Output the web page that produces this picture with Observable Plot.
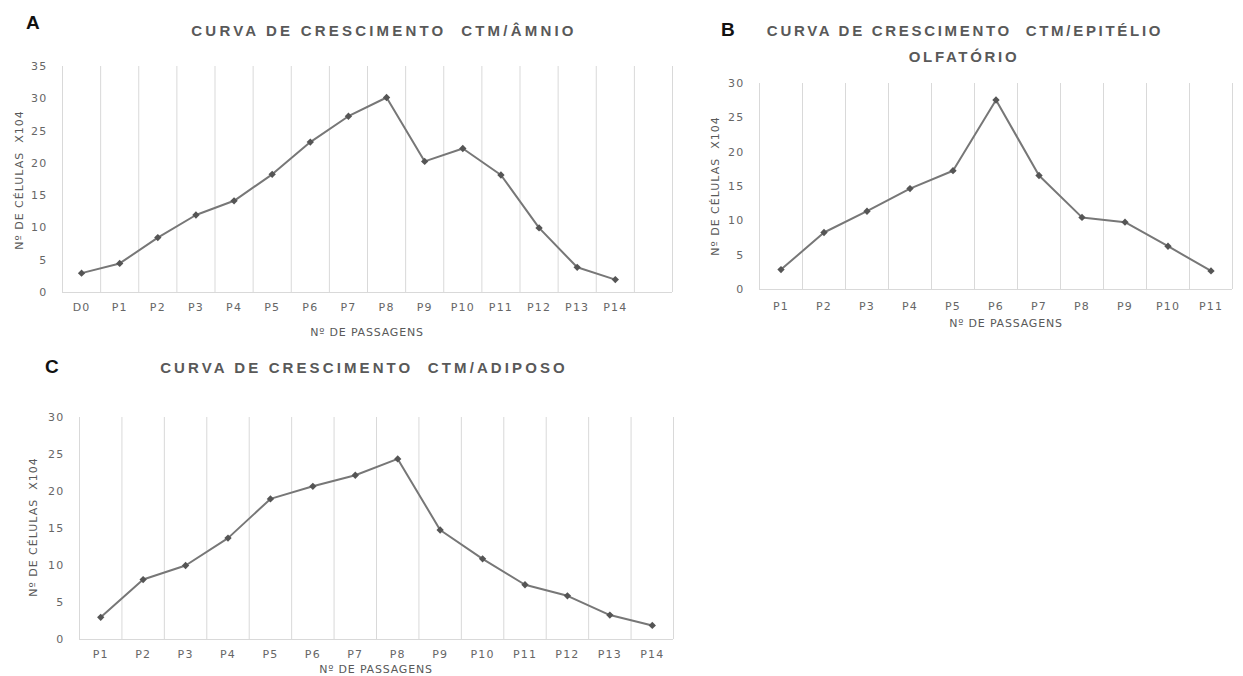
<!DOCTYPE html>
<html>
<head>
<meta charset="utf-8">
<script src="https://cdn.jsdelivr.net/npm/d3@7"></script>
<script src="https://cdn.jsdelivr.net/npm/@observablehq/plot@0.6"></script>
<style>
  html, body { margin: 0; padding: 0; background: #ffffff; }
  #root { position: relative; width: 1243px; height: 676px; overflow: hidden; background: #fff; }
  .panel { position: absolute; }
  #overlay { position: absolute; left: 0; top: 0; pointer-events: none; }
</style>
</head>
<body>
<div id="root"></div>
<script>
// ---- Data ----
const titleA = "CURVA DE CRESCIMENTO  CTM/ÂMNIO";
const titleB1 = "CURVA DE CRESCIMENTO  CTM/EPITÉLIO";
const titleB2 = "OLFATÓRIO";
const titleC = "CURVA DE CRESCIMENTO  CTM/ADIPOSO";
const yLabel = "Nº DE CÉLULAS  X104";
const xLabel = "Nº DE PASSAGENS";

const catsA = ["D0", "P1", "P2", "P3", "P4", "P5", "P6", "P7", "P8", "P9", "P10", "P11", "P12", "P13", "P14", ""];
const valuesA = [3.0, 4.5, 8.5, 12.0, 14.2, 18.3, 23.3, 27.3, 30.2, 20.3, 22.3, 18.2, 10.0, 3.9, 2.0];
const yTicksA = [0, 5, 10, 15, 20, 25, 30, 35];

const catsB = ["P1", "P2", "P3", "P4", "P5", "P6", "P7", "P8", "P9", "P10", "P11"];
const valuesB = [2.9, 8.3, 11.4, 14.7, 17.3, 27.6, 16.6, 10.5, 9.8, 6.3, 2.7];
const yTicksB = [0, 5, 10, 15, 20, 25, 30];

const catsC = ["P1", "P2", "P3", "P4", "P5", "P6", "P7", "P8", "P9", "P10", "P11", "P12", "P13", "P14"];
const valuesC = [3.0, 8.1, 10.0, 13.7, 19.0, 20.7, 22.2, 24.4, 14.8, 10.9, 7.4, 5.9, 3.3, 1.9];
const yTicksC = [0, 5, 10, 15, 20, 25, 30];

// ---- Drawing ----
const root = document.getElementById("root");

function panel(cats, values, yTicks, box) {
  const data = values.map((v, i) => ({i, cat: cats[i], v}));
  const bounds = d3.range(cats.length + 1).map(i => i - 0.5);
  const yMax = d3.max(yTicks);
  const plot = Plot.plot({
    width: box.w, height: box.h,
    marginLeft: box.ml, marginRight: box.mr, marginTop: box.mt, marginBottom: box.mb,
    style: {fontFamily: "DejaVu Sans", fontSize: "11px", color: "#666666", background: "transparent", overflow: "visible", letterSpacing: "1.2px"},
    x: {type: "linear", domain: [-0.5, cats.length - 0.5]},
    y: {domain: [0, yMax]},
    marks: [
      Plot.ruleX(bounds, {x: d => d, y1: 0, y2: yMax, stroke: "#d9d9d9", strokeWidth: 1}),
      Plot.ruleY([0], {stroke: "#d9d9d9", strokeWidth: 1}),
      Plot.axisX({ticks: d3.range(cats.length), tickFormat: i => cats[i], tickSize: 0, tickPadding: box.xpad, label: null}),
      Plot.axisY({ticks: yTicks, tickSize: 0, tickPadding: 15, label: null}),
      Plot.line(data, {x: "i", y: "v", stroke: "#777777", strokeWidth: 2}),
      Plot.dot(data, {x: "i", y: "v", symbol: "diamond2", r: 3.3, fill: "#555555", stroke: "none"})
    ]
  });
  const div = document.createElement("div");
  div.className = "panel";
  div.style.left = box.left + "px";
  div.style.top = box.top + "px";
  div.appendChild(plot);
  root.appendChild(div);
}

panel(catsA, valuesA, yTicksA, {left: 0, top: 0, w: 700, h: 340, ml: 62, mr: 28, mt: 66, mb: 48, xpad: 11});
panel(catsB, valuesB, yTicksB, {left: 700, top: 0, w: 543, h: 330, ml: 59, mr: 11, mt: 83, mb: 41, xpad: 13});
panel(catsC, valuesC, yTicksC, {left: 0, top: 340, w: 700, h: 336, ml: 79, mr: 27, mt: 77, mb: 37, xpad: 11});

// ---- Text overlay: panel letters, titles, axis labels ----
const svg = d3.select(root).append("svg")
  .attr("id", "overlay").attr("width", 1243).attr("height", 676);

function letter(t, x, y) {
  svg.append("text").attr("x", x).attr("y", y).text(t)
    .attr("font-family", "Liberation Sans").attr("font-weight", "bold")
    .attr("font-size", 19).attr("fill", "#111");
}
letter("A", 26, 29);
letter("B", 721, 36);
letter("C", 45, 373);

function title(t, cx, y, sp) {
  svg.append("text").attr("x", cx).attr("y", y).text(t)
    .attr("text-anchor", "middle").attr("xml:space", "preserve")
    .style("white-space", "pre")
    .attr("font-family", "Liberation Sans").attr("font-weight", "bold")
    .attr("font-size", 15).attr("letter-spacing", sp + "px").attr("fill", "#595959");
}
title(titleA, 384, 36, 3.2);
title(titleB1, 965, 36, 2.7);
title(titleB2, 964, 62, 2.7);
title(titleC, 364, 373, 3.1);

function xlab(cx, y) {
  svg.append("text").attr("x", cx).attr("y", y).text(xLabel)
    .attr("text-anchor", "middle").attr("dominant-baseline", "central")
    .attr("font-family", "DejaVu Sans").attr("font-size", 11).attr("letter-spacing", "0.8px")
    .attr("fill", "#595959");
}
xlab(367, 332);
xlab(1006, 323);
xlab(376, 669);

function ylab(cx, cy) {
  svg.append("text").attr("transform", `translate(${cx},${cy}) rotate(-90)`)
    .text(yLabel).style("white-space", "pre")
    .attr("text-anchor", "middle").attr("dominant-baseline", "central")
    .attr("font-family", "DejaVu Sans").attr("font-size", 11).attr("letter-spacing", "1px")
    .attr("fill", "#595959");
}
ylab(19, 180);
ylab(715, 186);
ylab(33, 527);
</script>
</body>
</html>
